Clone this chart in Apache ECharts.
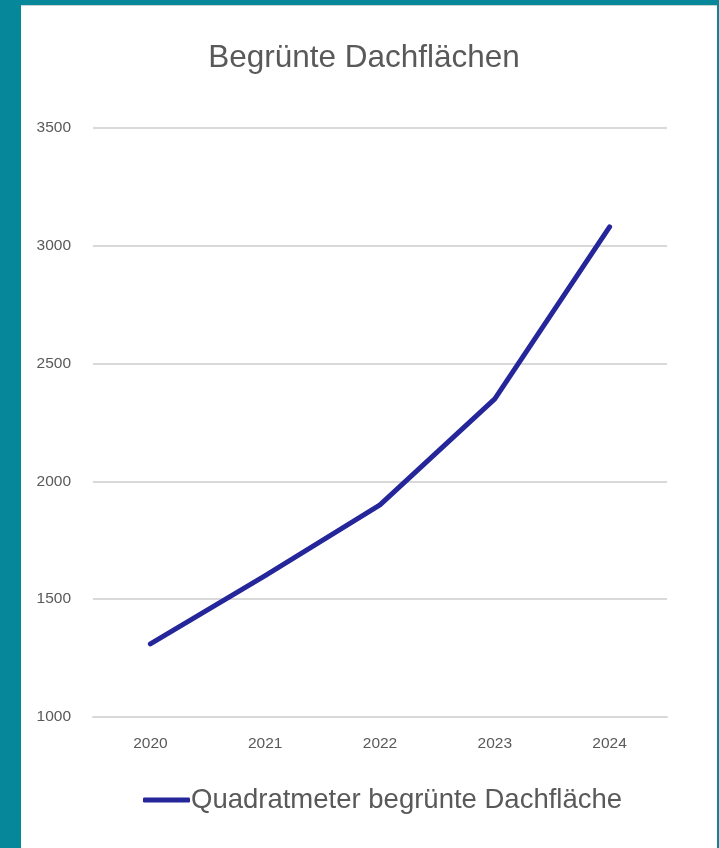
<!DOCTYPE html>
<html lang="de">
<head>
	<meta charset="UTF-8">
	<title>Begrünte Dachflächen</title>
	<script src="https://cdn.jsdelivr.net/npm/echarts@6/dist/echarts.min.js" type="text/javascript"></script>
	<style>
		html, body {
			margin: 0;
			padding: 0;
			width: 719px;
			height: 848px;
			background: #06879a;
			overflow: hidden;
		}
		#main {
			position: absolute;
			left: 21px;
			top: 5px;
			width: 696px;
			height: 843px;
			background: #ffffff;
			border-top: 1px solid #c9d3d5;
			box-sizing: border-box;
		}
	</style>
</head>
<body>
	<div id="main"></div>

<script type="text/javascript">
var years = ['2020', '2021', '2022', '2023', '2024'];
var flaeche = [1310, 1600, 1900, 2350, 3080];
var seriesName = 'Quadratmeter begrünte Dachfläche';

var mychart = echarts.init(document.getElementById('main'));

var option = {
	animation: false,
	textStyle: { fontFamily: 'Liberation Sans, Arial, sans-serif' },
	title: {
		text: 'Begrünte Dachflächen',
		left: 338,
		textAlign: 'center',
		top: 31,
		textStyle: { color: '#595959', fontSize: 31.5, fontWeight: 'normal' }
	},
	legend: {
		left: 117,
		top: 775,
		icon: 'roundRect',
		itemWidth: 47,
		itemHeight: 5,
		itemStyle: { color: '#26269b' },
		textStyle: { color: '#595959', fontSize: 27.5, padding: [0, 0, 0, -4] },
		data: [seriesName]
	},
	grid: {
		left: 72,
		right: 50,
		top: 122,
		bottom: 131
	},
	xAxis: {
		type: 'category',
		data: years,
		boundaryGap: true,
		axisLine: { show: true, lineStyle: { color: '#d9d9d9', width: 2 } },
		axisTick: { show: false },
		axisLabel: { color: '#595959', fontSize: 15.5, margin: 19 }
	},
	yAxis: {
		type: 'value',
		min: 1000,
		max: 3500,
		interval: 500,
		axisLine: { show: false },
		axisTick: { show: false },
		axisLabel: {
			color: '#595959',
			fontSize: 15.5,
			margin: 22,
			formatter: function (v) { return String(v); }
		},
		splitLine: { lineStyle: { color: '#d9d9d9', width: 2 } }
	},
	series: [
		{
			name: seriesName,
			type: 'line',
			data: flaeche,
			symbol: 'none',
			lineStyle: { color: '#26269b', width: 5, cap: 'round', join: 'round' },
			itemStyle: { color: '#26269b' }
		}
	]
};
mychart.setOption(option);
</script>
</body>
</html>
